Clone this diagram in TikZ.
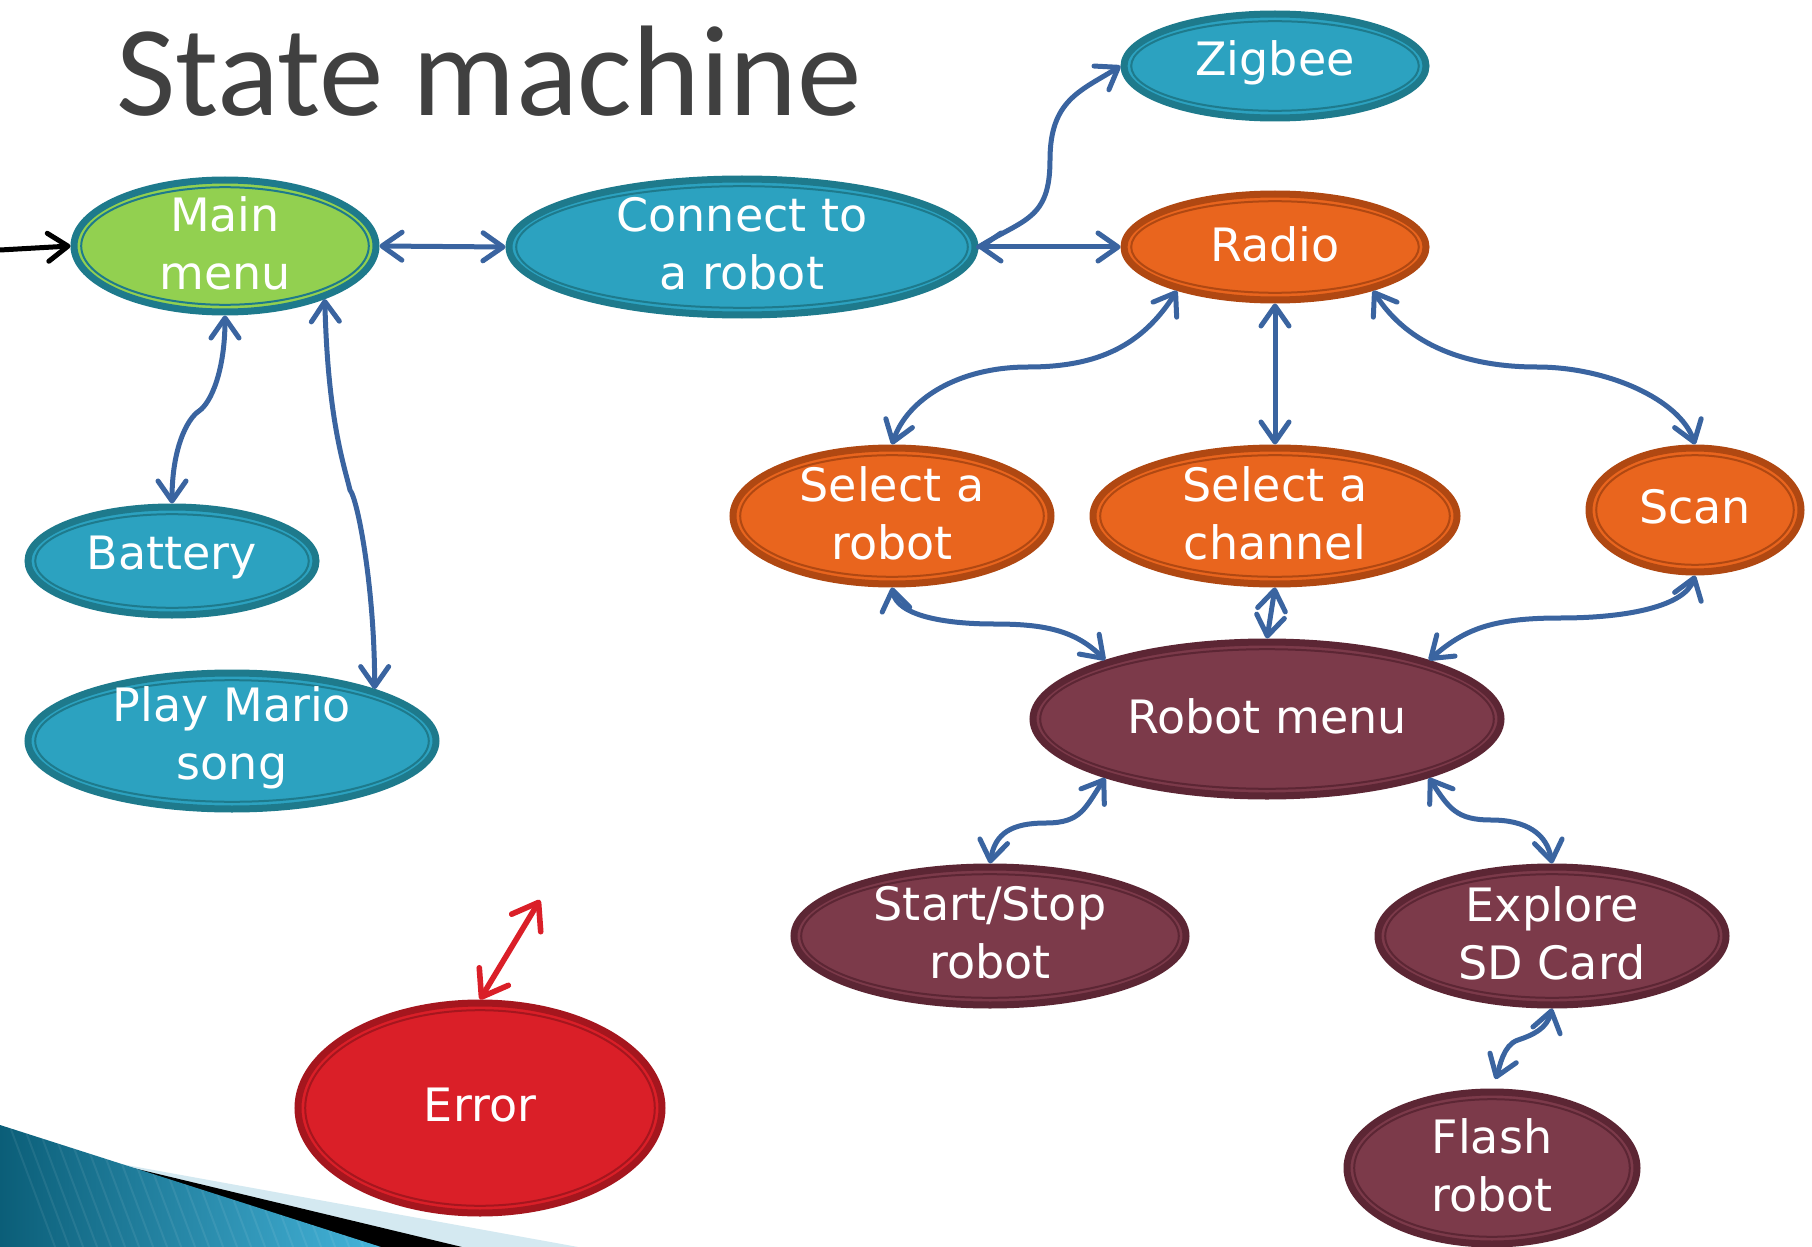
\documentclass[tikz,border=0pt]{standalone}
\usepackage{fontspec}
\setmainfont{DejaVu Sans}
\newfontfamily\titlefont{Carlito}
\usetikzlibrary{arrows.meta,shapes.geometric,calc}

\definecolor{tealfill}{HTML}{2CA2C0}
\definecolor{tealedge}{HTML}{1E7A8C}
\definecolor{greenfill}{HTML}{92D050}
\definecolor{orangefill}{HTML}{E9651E}
\definecolor{orangeedge}{HTML}{B04812}
\definecolor{plumfill}{HTML}{7C3A4A}
\definecolor{plumedge}{HTML}{5C2634}
\definecolor{redfill}{HTML}{DA1F28}
\definecolor{rededge}{HTML}{A5161E}
\definecolor{linkblue}{HTML}{3A64A0}
\definecolor{titlegray}{HTML}{404040}
\definecolor{decodark}{HTML}{0B5E78}
\definecolor{decolight}{HTML}{45B4DA}
\definecolor{decopale}{HTML}{D4E9F1}

\tikzset{
  % a state: filled ellipse with a thick rim and a thin inner ring
  state/.style 2 args={
    ellipse, fill=#1, draw=#2, line width=3.5pt, inner sep=0pt, outer sep=1.75pt,
    path picture={
      \draw[#2, line width=1pt]
        let \p1=(path picture bounding box.north east),
            \p2=(path picture bounding box.center) in
        (\p2) ellipse ({\x1-\x2-3.6pt} and {\y1-\y2-3.6pt});
    }
  },
  statetext/.style={text=white, align=center, inner sep=0pt, yshift=1.5pt,
    font=\fontsize{23}{29}\selectfont},
  barb/.tip={Straight Barb[length=10pt,width=14pt,round]},
  bigbarb/.tip={Straight Barb[length=12pt,width=17pt,round]},
  link/.style={draw=linkblue, line width=2.5pt, line cap=round, barb-barb},
  linkto/.style={draw=linkblue, line width=2.5pt, line cap=round, -barb},
  entry/.style={draw=black, line width=2.5pt, line cap=round, -barb},
  errlink/.style={draw=redfill, line width=2.8pt, line cap=round, bigbarb-bigbarb},
}

\begin{document}
\begin{tikzpicture}[x=0.5pt, y=-0.5pt]
  \useasboundingbox[fill=white] (0,0) rectangle (1812,1247);

  % corner ribbon
  \fill[decopale] (104,1161) -- (578,1247) -- (0,1247) -- cycle;
  \fill[black] (104,1161) -- (462,1247) -- (0,1247) -- cycle;
  \shade[left color=decodark, right color=decolight]
    (0,1125) -- (381,1247) -- (0,1247) -- cycle;
  \begin{scope}
    \clip (0,1125) -- (381,1247) -- (0,1247) -- cycle;
    \foreach \k in {0,14,...,420}
      \draw[white, opacity=0.07, line width=1pt] (\k,1100) -- (\k+60,1260);
  \end{scope}

  % title
  \node[anchor=base west, inner sep=0pt, text=titlegray,
        font=\titlefont\fontsize{64.5}{70}\selectfont] (title) at (116,116) {State machine};

  % states
  \node[state={greenfill}{tealedge}, minimum width=151pt, minimum height=66pt,
        label={[statetext]center:{Main\\menu}}] (mm) at (225,246) {};
  \node[state={tealfill}{tealedge}, minimum width=233pt, minimum height=68pt,
        label={[statetext]center:{Connect to\\a robot}}] (cr) at (742,247) {};
  \node[state={tealfill}{tealedge}, minimum width=151pt, minimum height=52pt,
        label={[statetext]center:{Zigbee}}] (zig) at (1275,66) {};
  \node[state={orangefill}{orangeedge}, minimum width=151pt, minimum height=53pt,
        label={[statetext]center:{Radio}}] (radio) at (1275,247) {};
  \node[state={orangefill}{orangeedge}, minimum width=159pt, minimum height=68pt,
        label={[statetext]center:{Select a\\robot}}] (sr) at (892,516) {};
  \node[state={orangefill}{orangeedge}, minimum width=182pt, minimum height=68pt,
        label={[statetext]center:{Select a\\channel}}] (sc) at (1275,516) {};
  \node[state={orangefill}{orangeedge}, minimum width=106pt, minimum height=62pt,
        label={[statetext]center:{Scan}}] (scan) at (1695,510) {};
  \node[state={tealfill}{tealedge}, minimum width=144pt, minimum height=54pt,
        label={[statetext]center:{Battery}}] (bat) at (172,561) {};
  \node[state={tealfill}{tealedge}, minimum width=204pt, minimum height=68pt,
        label={[statetext]center:{Play Mario\\song}}] (pm) at (232,741) {};
  \node[state={plumfill}{plumedge}, minimum width=234pt, minimum height=77pt,
        label={[statetext]center:{Robot menu}}] (rm) at (1267,719) {};
  \node[state={plumfill}{plumedge}, minimum width=196pt, minimum height=69pt,
        label={[statetext]center:{Start/Stop\\robot}}] (ss) at (990,936) {};
  \node[state={plumfill}{plumedge}, minimum width=174pt, minimum height=69pt,
        label={[statetext]center:{Explore\\SD Card}}] (ex) at (1552,936) {};
  \node[state={plumfill}{plumedge}, minimum width=145pt, minimum height=76pt,
        label={[statetext]center:{Flash\\robot}}] (fl) at (1492,1168) {};
  \node[state={redfill}{rededge}, minimum width=182pt, minimum height=105pt,
        label={[statetext]center:{Error}}] (err) at (480,1108) {};

  % transitions
  \coordinate (entrypt) at (0,250);
  \draw[entry] (entrypt) -- (mm.west);

  \draw[link] (mm.east) -- (cr.west);
  \draw[link] (cr.east) -- (radio.west);
  \draw[linkto] (cr.east) .. controls +(45,-28) and +(0,60) .. (1050,160)
                .. controls +(0,-60) and +(-40,25) .. (zig.west);

  \draw[link] (mm.south) .. controls +(0,55) and +(12,-8) .. (199,411)
              .. controls +(-12,8) and +(0,-55) .. (bat.north);
  \draw[link] (mm.-28) .. controls +(3,120) and +(-6,-25) .. (350,490)
              .. controls +(8,10) and +(0,-100) .. (pm.20);

  \draw[link] (radio.-156) .. controls +(-35,55) and +(70,0) .. (1028,367)
              .. controls +(-70,0) and +(15,-45) .. (sr.north);
  \draw[link] (radio.south) -- (sc.north);
  \draw[link] (radio.-24) .. controls +(35,55) and +(-70,0) .. (1537,367)
              .. controls +(70,0) and +(-15,-45) .. (scan.north);

  \draw[link] (sr.south) .. controls +(5,28) and +(-50,0) .. (994,624)
              .. controls +(50,0) and +(-30,-30) .. (rm.160);
  \draw[link] (sc.south) -- (rm.north);
  \draw[link] (scan.south) .. controls +(-10,30) and +(70,0) .. (1560,618)
              .. controls +(-70,0) and +(35,-30) .. (rm.20);

  \draw[link] (rm.-160) .. controls +(-20,30) and +(35,0) .. (1046,823)
              .. controls +(-35,0) and +(5,-30) .. (ss.north);
  \draw[link] (rm.-20) .. controls +(20,30) and +(-35,0) .. (1491,820)
              .. controls +(35,0) and +(-5,-30) .. (ex.north);

  \draw[link, shorten >=5pt] (ex.south) .. controls +(-5,20) and +(15,-5) .. (1518,1040)
              .. controls +(-15,5) and +(8,-22) .. (fl.north);

  \coordinate (errtip) at (540,900);
  \draw[errlink] (err.north) -- (errtip);
\end{tikzpicture}
\end{document}
